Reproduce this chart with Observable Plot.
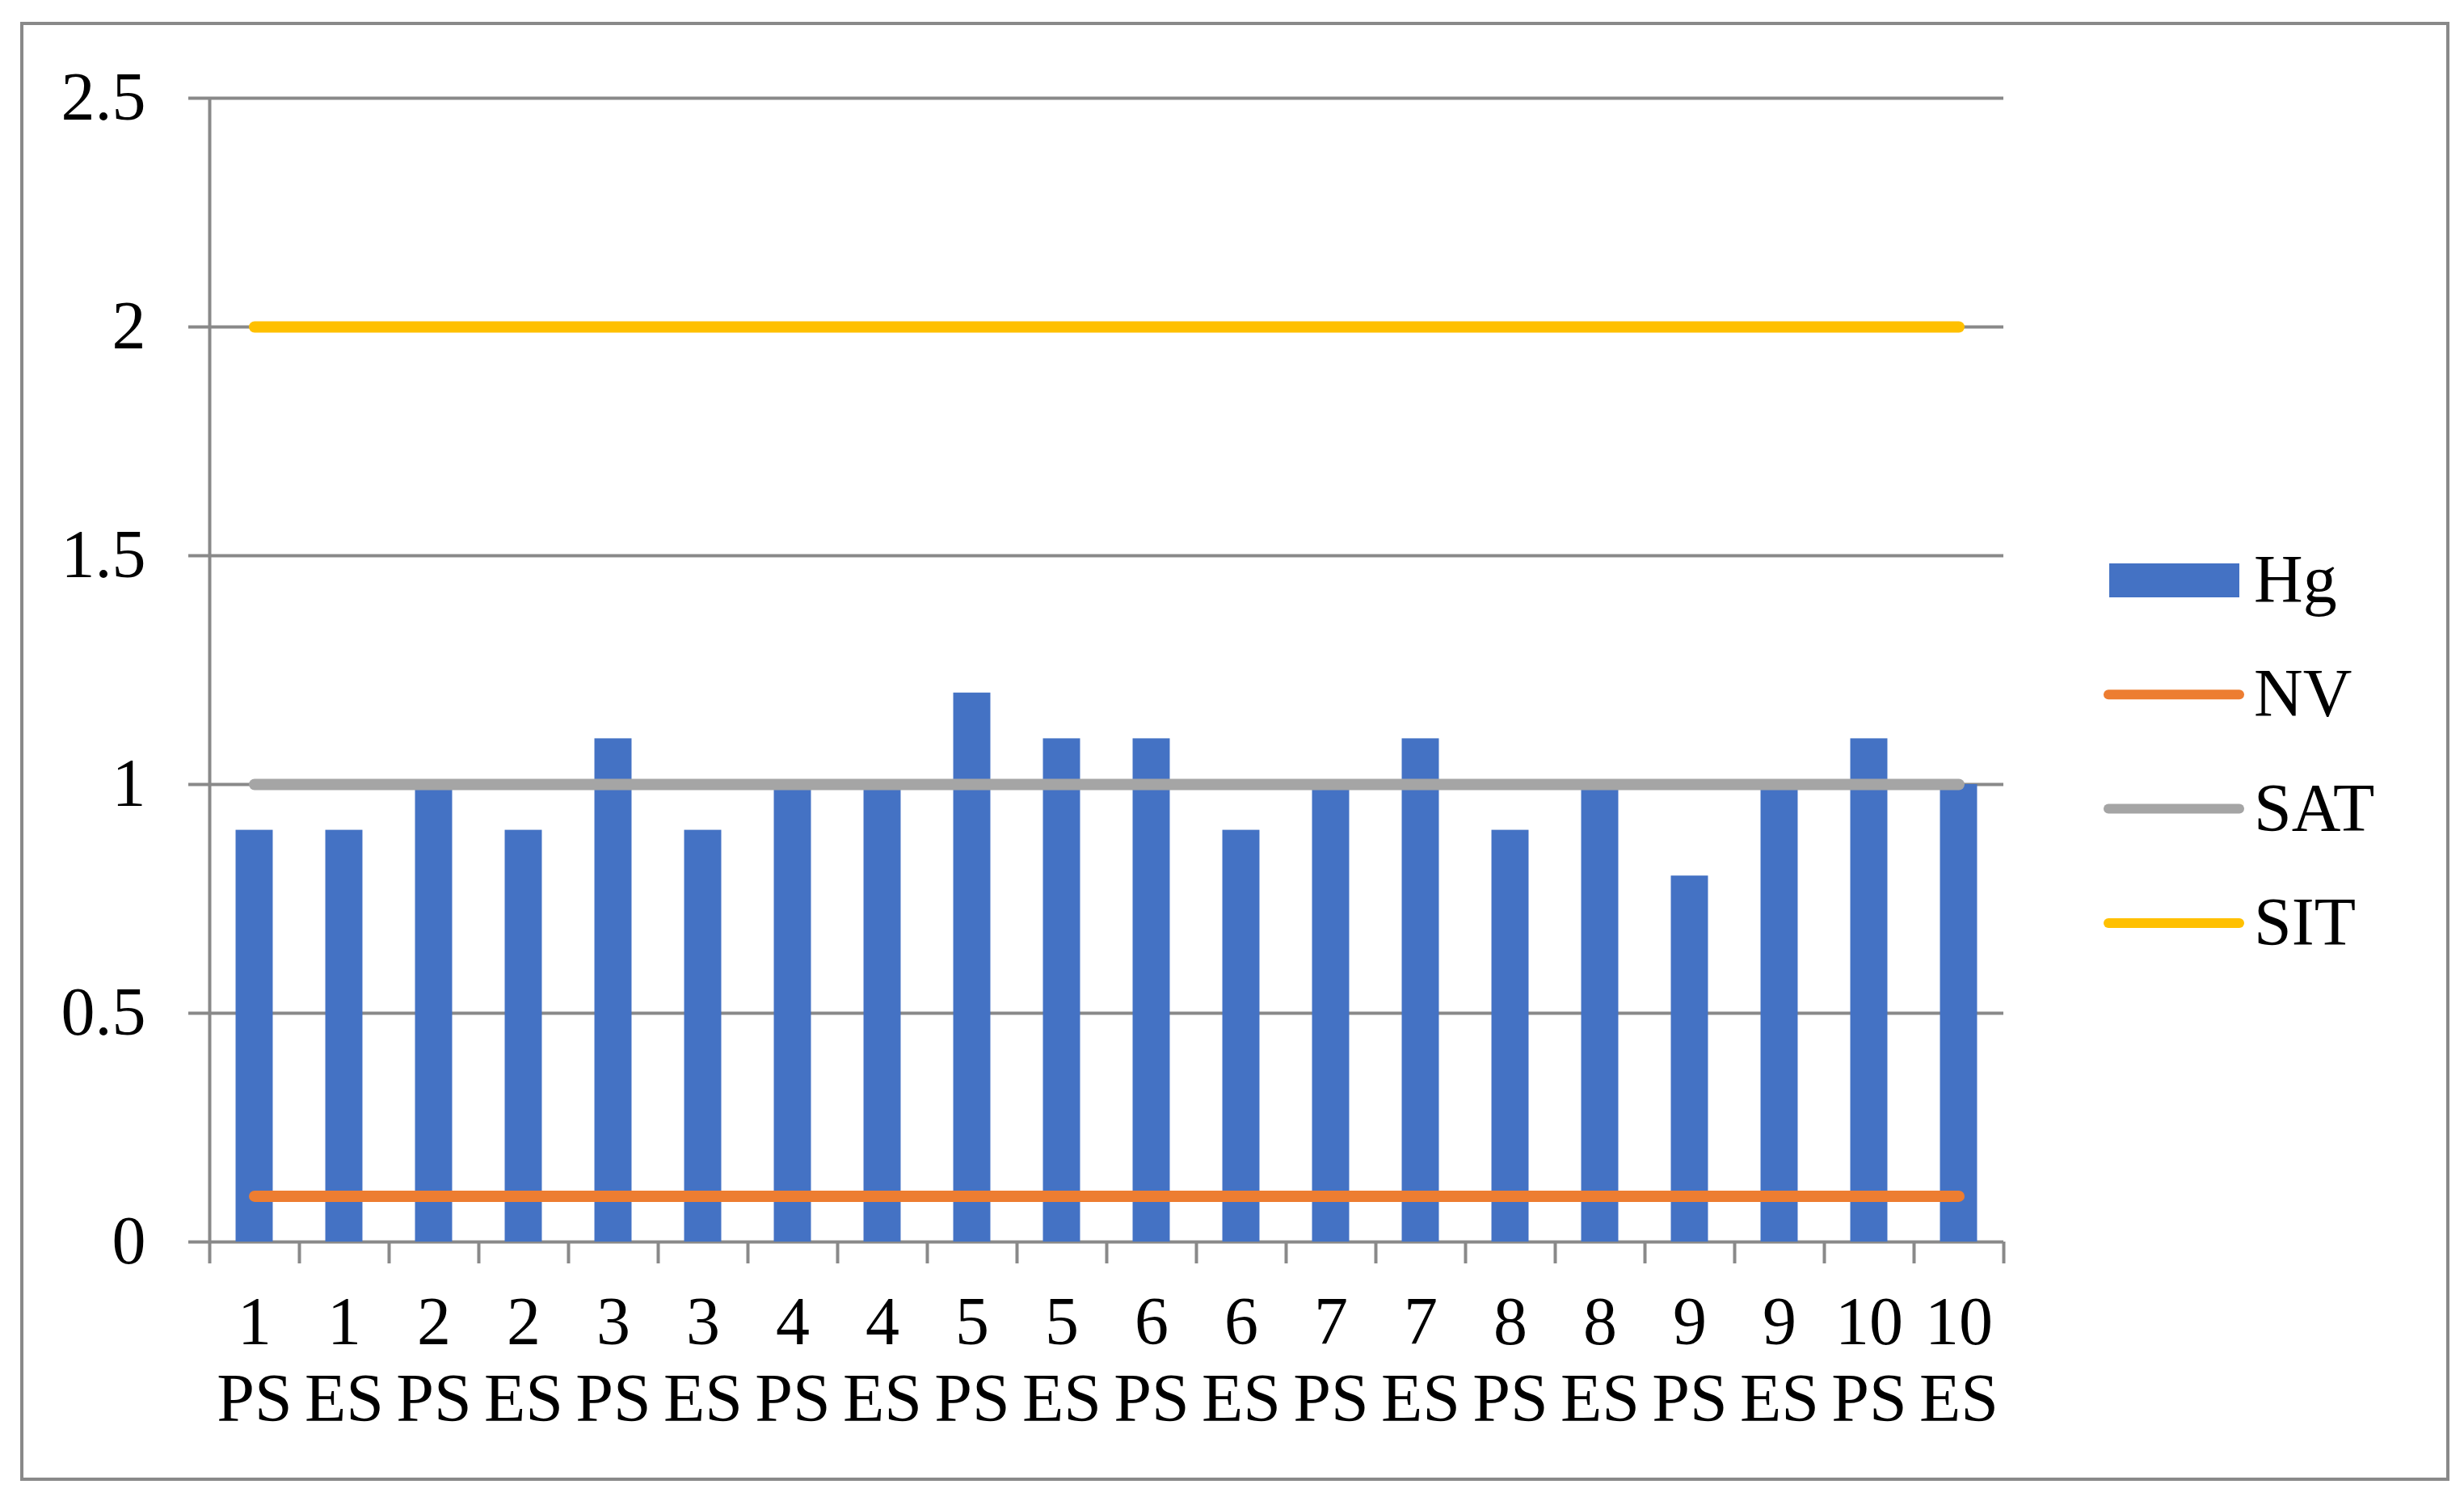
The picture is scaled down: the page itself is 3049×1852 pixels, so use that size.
<!DOCTYPE html>
<html><head><meta charset="utf-8">
<script src="https://cdn.jsdelivr.net/npm/d3@7"></script>
<script src="https://cdn.jsdelivr.net/npm/@observablehq/plot@0.6"></script>
<style>html,body{margin:0;padding:0;background:#fff;} #chart{width:3049px;height:1852px;}</style>
</head><body><div id="chart"></div>
<script>
// ---- data ----
const sites = ["1","1","2","2","3","3","4","4","5","5","6","6","7","7","8","8","9","9","10","10"];
const types = ["PS","ES","PS","ES","PS","ES","PS","ES","PS","ES","PS","ES","PS","ES","PS","ES","PS","ES","PS","ES"];
const hg  = [0.9,0.9,1.0,0.9,1.1,0.9,1.0,1.0,1.2,1.1,1.1,0.9,1.0,1.1,0.9,1.0,0.8,1.0,1.1,1.0];
const nv  = [0.1,0.1,0.1,0.1,0.1,0.1,0.1,0.1,0.1,0.1,0.1,0.1,0.1,0.1,0.1,0.1,0.1,0.1,0.1,0.1];
const sat = [1,1,1,1,1,1,1,1,1,1,1,1,1,1,1,1,1,1,1,1];
const sit = [2,2,2,2,2,2,2,2,2,2,2,2,2,2,2,2,2,2,2,2];
const yTicks = [0, 0.5, 1, 1.5, 2, 2.5];
const seriesNames = ["Hg", "NV", "SAT", "SIT"];
const seriesColors = ["#4472C4", "#ED7D31", "#A5A5A5", "#FFC000"];

// ---- table ----
const rows = hg.map((v, i) => ({i, site: sites[i], type: types[i], hg: v, nv: nv[i], sat: sat[i], sit: sit[i]}));
const indices = rows.map(d => d.i);
const boundaries = [-0.5].concat(indices.map(i => i + 0.5));

const gray = "#898989";
const font = "'Liberation Serif', 'Times New Roman', serif";

const svg = Plot.plot({
  width: 3049,
  height: 1852,
  marginLeft: 259,
  marginRight: 570,
  marginTop: 121,
  marginBottom: 316,
  style: {fontFamily: font, fontSize: "84px", background: "white", color: "black"},
  x: {domain: [-0.5, 19.5], label: null},
  y: {domain: [0, 2.5], label: null},
  marks: [
    Plot.gridY(yTicks, {stroke: gray, strokeOpacity: 1, strokeWidth: 4}),
    Plot.axisY(yTicks, {tickSize: 26, tickPadding: 53, stroke: gray, strokeWidth: 4, fill: "black",
      fontSize: 84, tickFormat: d => String(d), label: null}),
    Plot.ruleX([-0.5], {stroke: gray, strokeWidth: 4}),
    Plot.axisX(boundaries, {tickSize: 27, stroke: gray, strokeWidth: 4, fill: "none", label: null}),
    Plot.axisX(indices, {tickSize: 0, tickPadding: 59.5, fill: "black", fontSize: 84, lineHeight: 1.131,
      tickFormat: i => sites[i] + "\n" + types[i], label: null}),
    Plot.rectY(rows, {x1: d => d.i - 0.207, x2: d => d.i + 0.207, y: "hg", fill: seriesColors[0]}),
    Plot.lineY(rows, {x: "i", y: "nv", stroke: seriesColors[1], strokeWidth: 14, strokeLinecap: "round"}),
    Plot.lineY(rows, {x: "i", y: "sat", stroke: seriesColors[2], strokeWidth: 14, strokeLinecap: "round"}),
    Plot.lineY(rows, {x: "i", y: "sit", stroke: seriesColors[3], strokeWidth: 14, strokeLinecap: "round"})
  ]
});

// outer chart border
d3.select(svg).append("rect")
  .attr("x", 27).attr("y", 29).attr("width", 3002).attr("height", 1801)
  .attr("fill", "none").attr("stroke", gray).attr("stroke-width", 4);

// legend
const lg = d3.select(svg).append("g")
  .attr("font-family", font).attr("font-size", 84).attr("text-anchor", "start");
seriesNames.forEach((name, k) => {
  const cy = 718 + k * 141.3;
  if (k === 0) {
    lg.append("rect").attr("x", 2610).attr("y", cy - 21).attr("width", 161).attr("height", 42)
      .attr("fill", seriesColors[k]);
  } else {
    lg.append("line").attr("x1", 2609).attr("x2", 2771).attr("y1", cy).attr("y2", cy)
      .attr("stroke", seriesColors[k]).attr("stroke-width", 12).attr("stroke-linecap", "round");
  }
  lg.append("text").attr("x", 2789).attr("y", cy + 27).attr("fill", "black")
    .style("font-family", font).style("font-size", "84px").style("text-anchor", "start").text(name);
});

document.getElementById("chart").appendChild(svg);
</script>
</body></html>
